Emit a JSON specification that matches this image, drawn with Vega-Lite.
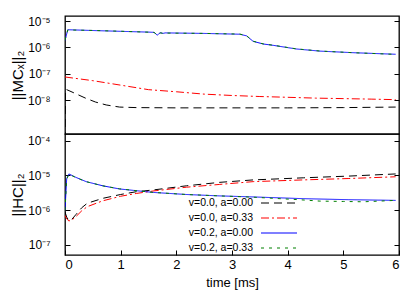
{
  "$schema": "https://vega.github.io/schema/vega-lite/v6.json",
  "padding": {"left": 9, "top": 14, "right": 5, "bottom": 5},
  "spacing": 0,
  "bounds": "flush",
  "config": {
    "font": "Liberation Sans",
    "view": {"stroke": "black", "strokeWidth": 1.3},
    "axis": {"domain": false, "grid": false, "tickColor": "black", "tickWidth": 1, "labelColor": "black", "titleColor": "black", "labelFont": "Liberation Sans", "titleFont": "Liberation Sans", "titleFontWeight": "normal", "labelFontSize": 12, "titleFontSize": 13}
  },
  "datasets": {
    "mc": [
      {"s": "v=0.0, a=0.00", "t": 0, "val": 1e-10},
      {"s": "v=0.0, a=0.00", "t": 0.01, "val": 2.63e-8},
      {"s": "v=0.0, a=0.00", "t": 0.2, "val": 1.74e-8},
      {"s": "v=0.0, a=0.00", "t": 0.38, "val": 1.17e-8},
      {"s": "v=0.0, a=0.00", "t": 0.55, "val": 8.51e-9},
      {"s": "v=0.0, a=0.00", "t": 0.74, "val": 6.61e-9},
      {"s": "v=0.0, a=0.00", "t": 0.98, "val": 5.5e-9},
      {"s": "v=0.0, a=0.00", "t": 1.28, "val": 5.25e-9},
      {"s": "v=0.0, a=0.00", "t": 2, "val": 5.13e-9},
      {"s": "v=0.0, a=0.00", "t": 3, "val": 5.13e-9},
      {"s": "v=0.0, a=0.00", "t": 4, "val": 5.13e-9},
      {"s": "v=0.0, a=0.00", "t": 5, "val": 5.25e-9},
      {"s": "v=0.0, a=0.00", "t": 5.94, "val": 5.5e-9},
      {"s": "v=0.0, a=0.33", "t": 0, "val": 7.59e-8},
      {"s": "v=0.0, a=0.33", "t": 0.5, "val": 5.5e-8},
      {"s": "v=0.0, a=0.33", "t": 1, "val": 3.72e-8},
      {"s": "v=0.0, a=0.33", "t": 1.5, "val": 2.51e-8},
      {"s": "v=0.0, a=0.33", "t": 2, "val": 2.09e-8},
      {"s": "v=0.0, a=0.33", "t": 2.5, "val": 1.7e-8},
      {"s": "v=0.0, a=0.33", "t": 3, "val": 1.51e-8},
      {"s": "v=0.0, a=0.33", "t": 3.5, "val": 1.38e-8},
      {"s": "v=0.0, a=0.33", "t": 4, "val": 1.29e-8},
      {"s": "v=0.0, a=0.33", "t": 4.5, "val": 1.2e-8},
      {"s": "v=0.0, a=0.33", "t": 5, "val": 1.15e-8},
      {"s": "v=0.0, a=0.33", "t": 5.5, "val": 1.1e-8},
      {"s": "v=0.0, a=0.33", "t": 5.94, "val": 1.05e-8},
      {"s": "v=0.2, a=0.00", "t": 0, "val": 1.82e-6},
      {"s": "v=0.2, a=0.00", "t": 0.05, "val": 4.68e-6},
      {"s": "v=0.2, a=0.00", "t": 0.5, "val": 4.37e-6},
      {"s": "v=0.2, a=0.00", "t": 1, "val": 4.07e-6},
      {"s": "v=0.2, a=0.00", "t": 1.5, "val": 3.8e-6},
      {"s": "v=0.2, a=0.00", "t": 1.6, "val": 3.72e-6},
      {"s": "v=0.2, a=0.00", "t": 1.66, "val": 2.9e-6},
      {"s": "v=0.2, a=0.00", "t": 1.69, "val": 3.4e-6},
      {"s": "v=0.2, a=0.00", "t": 1.72, "val": 3.6e-6},
      {"s": "v=0.2, a=0.00", "t": 1.76, "val": 3.39e-6},
      {"s": "v=0.2, a=0.00", "t": 1.8, "val": 3.55e-6},
      {"s": "v=0.2, a=0.00", "t": 2.5, "val": 3.39e-6},
      {"s": "v=0.2, a=0.00", "t": 3.14, "val": 3.16e-6},
      {"s": "v=0.2, a=0.00", "t": 3.26, "val": 2.75e-6},
      {"s": "v=0.2, a=0.00", "t": 3.38, "val": 1.7e-6},
      {"s": "v=0.2, a=0.00", "t": 3.56, "val": 1.35e-6},
      {"s": "v=0.2, a=0.00", "t": 3.74, "val": 1.2e-6},
      {"s": "v=0.2, a=0.00", "t": 4.16, "val": 8.71e-7},
      {"s": "v=0.2, a=0.00", "t": 4.58, "val": 7.24e-7},
      {"s": "v=0.2, a=0.00", "t": 5.18, "val": 6.31e-7},
      {"s": "v=0.2, a=0.00", "t": 5.94, "val": 5.5e-7},
      {"s": "v=0.2, a=0.33", "t": 0, "val": 1.9e-6},
      {"s": "v=0.2, a=0.33", "t": 0.05, "val": 4.6e-6},
      {"s": "v=0.2, a=0.33", "t": 0.5, "val": 4.4e-6},
      {"s": "v=0.2, a=0.33", "t": 1, "val": 4.1e-6},
      {"s": "v=0.2, a=0.33", "t": 1.5, "val": 3.78e-6},
      {"s": "v=0.2, a=0.33", "t": 1.6, "val": 3.7e-6},
      {"s": "v=0.2, a=0.33", "t": 1.66, "val": 2.95e-6},
      {"s": "v=0.2, a=0.33", "t": 1.69, "val": 3.4e-6},
      {"s": "v=0.2, a=0.33", "t": 1.72, "val": 3.55e-6},
      {"s": "v=0.2, a=0.33", "t": 1.76, "val": 3.4e-6},
      {"s": "v=0.2, a=0.33", "t": 1.8, "val": 3.5e-6},
      {"s": "v=0.2, a=0.33", "t": 2.5, "val": 3.4e-6},
      {"s": "v=0.2, a=0.33", "t": 3.14, "val": 3.2e-6},
      {"s": "v=0.2, a=0.33", "t": 3.26, "val": 2.8e-6},
      {"s": "v=0.2, a=0.33", "t": 3.38, "val": 1.72e-6},
      {"s": "v=0.2, a=0.33", "t": 3.56, "val": 1.36e-6},
      {"s": "v=0.2, a=0.33", "t": 3.74, "val": 1.21e-6},
      {"s": "v=0.2, a=0.33", "t": 4.16, "val": 8.8e-7},
      {"s": "v=0.2, a=0.33", "t": 4.58, "val": 7.3e-7},
      {"s": "v=0.2, a=0.33", "t": 5.18, "val": 6.3e-7},
      {"s": "v=0.2, a=0.33", "t": 5.94, "val": 5.45e-7}
    ],
    "hc": [
      {"s": "v=0.0, a=0.00", "t": 0, "val": 8.91e-7},
      {"s": "v=0.0, a=0.00", "t": 0.03, "val": 6.31e-7},
      {"s": "v=0.0, a=0.00", "t": 0.07, "val": 5.01e-7},
      {"s": "v=0.0, a=0.00", "t": 0.12, "val": 5.37e-7},
      {"s": "v=0.0, a=0.00", "t": 0.2, "val": 7.59e-7},
      {"s": "v=0.0, a=0.00", "t": 0.3, "val": 1.17e-6},
      {"s": "v=0.0, a=0.00", "t": 0.4, "val": 1.58e-6},
      {"s": "v=0.0, a=0.00", "t": 0.68, "val": 2.19e-6},
      {"s": "v=0.0, a=0.00", "t": 1, "val": 2.82e-6},
      {"s": "v=0.0, a=0.00", "t": 1.28, "val": 3.39e-6},
      {"s": "v=0.0, a=0.00", "t": 1.58, "val": 3.8e-6},
      {"s": "v=0.0, a=0.00", "t": 2.18, "val": 5.01e-6},
      {"s": "v=0.0, a=0.00", "t": 2.78, "val": 6.31e-6},
      {"s": "v=0.0, a=0.00", "t": 3.38, "val": 7.41e-6},
      {"s": "v=0.0, a=0.00", "t": 4.28, "val": 8.51e-6},
      {"s": "v=0.0, a=0.00", "t": 5.1, "val": 9.55e-6},
      {"s": "v=0.0, a=0.00", "t": 5.94, "val": 1.1e-5},
      {"s": "v=0.0, a=0.33", "t": 0, "val": 7.08e-7},
      {"s": "v=0.0, a=0.33", "t": 0.03, "val": 5.62e-7},
      {"s": "v=0.0, a=0.33", "t": 0.07, "val": 4.9e-7},
      {"s": "v=0.0, a=0.33", "t": 0.12, "val": 5.13e-7},
      {"s": "v=0.0, a=0.33", "t": 0.2, "val": 6.61e-7},
      {"s": "v=0.0, a=0.33", "t": 0.3, "val": 9.55e-7},
      {"s": "v=0.0, a=0.33", "t": 0.4, "val": 1.26e-6},
      {"s": "v=0.0, a=0.33", "t": 0.68, "val": 1.86e-6},
      {"s": "v=0.0, a=0.33", "t": 1, "val": 2.51e-6},
      {"s": "v=0.0, a=0.33", "t": 1.28, "val": 3.02e-6},
      {"s": "v=0.0, a=0.33", "t": 1.58, "val": 3.55e-6},
      {"s": "v=0.0, a=0.33", "t": 2.18, "val": 4.57e-6},
      {"s": "v=0.0, a=0.33", "t": 2.78, "val": 5.5e-6},
      {"s": "v=0.0, a=0.33", "t": 3.38, "val": 6.61e-6},
      {"s": "v=0.0, a=0.33", "t": 4.28, "val": 7.41e-6},
      {"s": "v=0.0, a=0.33", "t": 5.1, "val": 8.13e-6},
      {"s": "v=0.0, a=0.33", "t": 5.94, "val": 9.12e-6},
      {"s": "v=0.2, a=0.00", "t": 0, "val": 1.0e-6},
      {"s": "v=0.2, a=0.00", "t": 0.03, "val": 7.94e-6},
      {"s": "v=0.2, a=0.00", "t": 0.07, "val": 1.1e-5},
      {"s": "v=0.2, a=0.00", "t": 0.2, "val": 8.71e-6},
      {"s": "v=0.2, a=0.00", "t": 0.38, "val": 6.61e-6},
      {"s": "v=0.2, a=0.00", "t": 0.68, "val": 5.01e-6},
      {"s": "v=0.2, a=0.00", "t": 0.98, "val": 4.07e-6},
      {"s": "v=0.2, a=0.00", "t": 1.34, "val": 3.55e-6},
      {"s": "v=0.2, a=0.00", "t": 1.58, "val": 3.24e-6},
      {"s": "v=0.2, a=0.00", "t": 2.18, "val": 2.82e-6},
      {"s": "v=0.2, a=0.00", "t": 2.78, "val": 2.57e-6},
      {"s": "v=0.2, a=0.00", "t": 3.38, "val": 2.4e-6},
      {"s": "v=0.2, a=0.00", "t": 4.28, "val": 2.14e-6},
      {"s": "v=0.2, a=0.00", "t": 5.1, "val": 2.0e-6},
      {"s": "v=0.2, a=0.00", "t": 5.94, "val": 1.91e-6},
      {"s": "v=0.2, a=0.33", "t": 0, "val": 1.0e-6},
      {"s": "v=0.2, a=0.33", "t": 0.03, "val": 7.8e-6},
      {"s": "v=0.2, a=0.33", "t": 0.07, "val": 1.08e-5},
      {"s": "v=0.2, a=0.33", "t": 0.2, "val": 8.6e-6},
      {"s": "v=0.2, a=0.33", "t": 0.38, "val": 6.6e-6},
      {"s": "v=0.2, a=0.33", "t": 0.68, "val": 5.0e-6},
      {"s": "v=0.2, a=0.33", "t": 0.98, "val": 4.1e-6},
      {"s": "v=0.2, a=0.33", "t": 1.34, "val": 3.55e-6},
      {"s": "v=0.2, a=0.33", "t": 1.58, "val": 3.25e-6},
      {"s": "v=0.2, a=0.33", "t": 2.18, "val": 2.82e-6},
      {"s": "v=0.2, a=0.33", "t": 2.78, "val": 2.57e-6},
      {"s": "v=0.2, a=0.33", "t": 3.38, "val": 2.36e-6},
      {"s": "v=0.2, a=0.33", "t": 3.74, "val": 2.19e-6},
      {"s": "v=0.2, a=0.33", "t": 4.2, "val": 2.0e-6},
      {"s": "v=0.2, a=0.33", "t": 4.58, "val": 1.82e-6},
      {"s": "v=0.2, a=0.33", "t": 5.0, "val": 1.78e-6},
      {"s": "v=0.2, a=0.33", "t": 5.36, "val": 1.74e-6},
      {"s": "v=0.2, a=0.33", "t": 5.94, "val": 1.91e-6}
    ]
  },
  "vconcat": [
    {
      "width": 334,
      "height": 118,
      "data": {"name": "mc"},
      "layer": [
        {
          "mark": {"type": "line", "strokeWidth": 1, "clip": true},
          "encoding": {
            "x": {"field": "t", "type": "quantitative", "scale": {"domain": [0, 6], "nice": false}, "axis": null},
            "y": {"field": "val", "type": "quantitative", "scale": {"type": "log", "domain": [5.25e-10, 1.55e-5], "nice": false},
              "axis": {"values": [1e-8, 1e-7, 1e-6, 1e-5], "tickSize": -5, "labelPadding": 20, "title": "||MCₓ||₂", "titleFontSize": 15, "titlePadding": 2,
                "labelExpr": "'10⁻' + ['','¹','²','³','⁴','⁵','⁶','⁷','⁸','⁹'][round(-log(datum.value)/LN10)]"}},
            "color": {"field": "s", "type": "nominal", "legend": null,
              "scale": {"domain": ["v=0.0, a=0.00", "v=0.0, a=0.33", "v=0.2, a=0.00", "v=0.2, a=0.33"], "range": ["#000000", "#ff0000", "#0000ff", "#008000"]}},
            "strokeDash": {"field": "s", "type": "nominal", "legend": null,
              "scale": {"domain": ["v=0.0, a=0.00", "v=0.0, a=0.33", "v=0.2, a=0.00", "v=0.2, a=0.33"], "range": [[8, 5], [8, 3, 2, 3], [1, 0], [3, 5]]}}
          }
        },
        {
          "mark": {"type": "line", "strokeOpacity": 0},
          "encoding": {
            "x": {"field": "t", "type": "quantitative", "scale": {"domain": [0, 6], "nice": false}, "axis": null},
            "y": {"field": "val", "type": "quantitative", "scale": {"type": "log", "domain": [5.25e-10, 1.55e-5], "nice": false},
              "axis": {"orient": "right", "values": [1e-8, 1e-7, 1e-6, 1e-5], "tickSize": -5, "labels": false, "title": null}},
            "detail": {"field": "s"}
          }
        }
      ],
      "resolve": {"axis": {"y": "independent"}}
    },
    {
      "width": 334,
      "height": 121,
      "data": {"name": "hc"},
      "layer": [
        {
          "mark": {"type": "line", "strokeWidth": 1, "clip": true},
          "encoding": {
            "x": {"field": "t", "type": "quantitative", "scale": {"domain": [0, 6], "nice": false},
              "axis": {"values": [0, 1, 2, 3, 4, 5, 6], "format": "d", "tickSize": -5, "labelPadding": 8, "labelFontSize": 13, "title": "time [ms]", "titlePadding": 5}},
            "y": {"field": "val", "type": "quantitative", "scale": {"type": "log", "domain": [5.13e-8, 1.55e-4], "nice": false},
              "axis": {"values": [1e-7, 1e-6, 1e-5, 1e-4], "tickSize": -5, "labelPadding": 20, "title": "||HC||₂", "titleFontSize": 15, "titlePadding": 2,
                "labelExpr": "'10⁻' + ['','¹','²','³','⁴','⁵','⁶','⁷','⁸','⁹'][round(-log(datum.value)/LN10)]"}},
            "color": {"field": "s", "type": "nominal",
              "legend": {"orient": "none", "legendX": 207, "legendY": 62, "title": null, "symbolType": "M-3,0H3", "symbolSize": 144, "symbolStrokeWidth": 1.2, "symbolFillColor": "transparent", "labelFontSize": 10.5, "labelFont": "Liberation Sans", "labelAlign": "right", "labelOffset": -33, "rowPadding": 2},
              "scale": {"domain": ["v=0.0, a=0.00", "v=0.0, a=0.33", "v=0.2, a=0.00", "v=0.2, a=0.33"], "range": ["#000000", "#ff0000", "#0000ff", "#008000"]}},
            "strokeDash": {"field": "s", "type": "nominal",
              "legend": {"orient": "none", "legendX": 207, "legendY": 62, "title": null, "symbolType": "M-3,0H3", "symbolSize": 144, "symbolStrokeWidth": 1.2, "symbolFillColor": "transparent", "labelFontSize": 10.5, "labelFont": "Liberation Sans", "labelAlign": "right", "labelOffset": -33, "rowPadding": 2},
              "scale": {"domain": ["v=0.0, a=0.00", "v=0.0, a=0.33", "v=0.2, a=0.00", "v=0.2, a=0.33"], "range": [[8, 5], [8, 3, 2, 3], [1, 0], [3, 5]]}}
          }
        },
        {
          "mark": {"type": "line", "strokeOpacity": 0},
          "encoding": {
            "x": {"field": "t", "type": "quantitative", "scale": {"domain": [0, 6], "nice": false}},
            "y": {"field": "val", "type": "quantitative", "scale": {"type": "log", "domain": [5.13e-8, 1.55e-4], "nice": false},
              "axis": {"orient": "right", "values": [1e-7, 1e-6, 1e-5, 1e-4], "tickSize": -5, "labels": false, "title": null}},
            "detail": {"field": "s"}
          }
        }
      ],
      "resolve": {"axis": {"y": "independent"}}
    }
  ],
  "resolve": {"legend": {"color": "independent", "strokeDash": "independent"}}
}
